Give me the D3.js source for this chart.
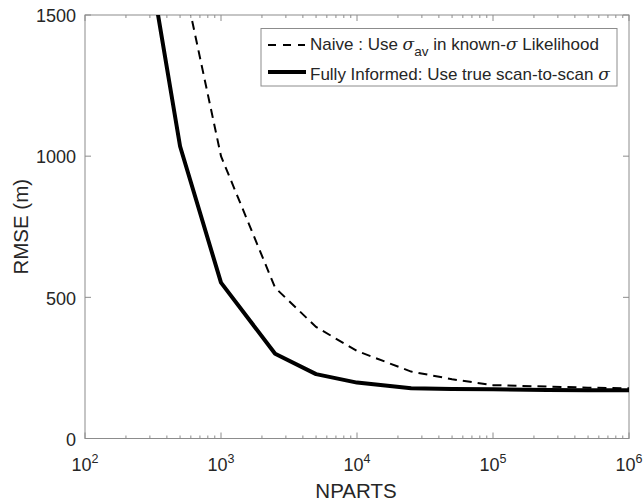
<!DOCTYPE html>
<html>
<head>
<meta charset="utf-8">
<script src="https://cdn.jsdelivr.net/npm/d3@7"></script>
<style>
    body { margin: 0; background: #fff; }
    text { font-family: "Liberation Sans", Arial, sans-serif; fill: #262626; }
</style>
</head>
<body>
<svg id="chart" width="643" height="503"></svg>
<script>
// values
const nparts = [250, 500, 1000, 2500, 5000, 10000, 25000, 50000, 100000, 250000, 500000, 1000000];
const naive = [2900, 1680, 1000, 534, 395, 310, 237, 210, 189, 184, 180, 178];
const informed = [1900, 1035, 552, 300, 228, 198, 178, 175, 174, 172, 171, 171];

const xDecades = [2, 3, 4, 5, 6];
const yTicks = [0, 500, 1000, 1500];

const svg = d3.select("#chart");
const box = { left: 85, right: 629, top: 15, bottom: 438.5 };
const axisColor = "#8c8c8c";

const x = d3.scaleLog().domain([1e2, 1e6]).range([box.left, box.right]);
const y = d3.scaleLinear().domain([0, 1500]).range([box.bottom, box.top]);

svg.append("defs").append("clipPath").attr("id", "plotclip")
    .append("rect")
    .attr("x", box.left).attr("y", box.top)
    .attr("width", box.right - box.left).attr("height", box.bottom - box.top);

// frame
svg.append("rect")
    .attr("x", box.left).attr("y", box.top)
    .attr("width", box.right - box.left).attr("height", box.bottom - box.top)
    .attr("fill", "none").attr("stroke", axisColor).attr("stroke-width", 1);

// x ticks (inside, bottom and top), minor ticks too
const minor = [];
for (let d = 2; d < 6; d++)
    for (let m = 2; m <= 9; m++) minor.push(m * Math.pow(10, d));

const ticks = svg.append("g").attr("stroke", axisColor).attr("stroke-width", 1);
xDecades.forEach(d => {
    const px = x(Math.pow(10, d));
    ticks.append("line").attr("x1", px).attr("x2", px).attr("y1", box.bottom).attr("y2", box.bottom - 6);
    ticks.append("line").attr("x1", px).attr("x2", px).attr("y1", box.top).attr("y2", box.top + 6);
});
minor.forEach(v => {
    const px = x(v);
    ticks.append("line").attr("x1", px).attr("x2", px).attr("y1", box.bottom).attr("y2", box.bottom - 3);
    ticks.append("line").attr("x1", px).attr("x2", px).attr("y1", box.top).attr("y2", box.top + 3);
});
yTicks.forEach(v => {
    const py = y(v);
    ticks.append("line").attr("x1", box.left).attr("x2", box.left + 6).attr("y1", py).attr("y2", py);
    ticks.append("line").attr("x1", box.right).attr("x2", box.right - 6).attr("y1", py).attr("y2", py);
});

// tick labels
xDecades.forEach(d => {
    const t = svg.append("text")
        .attr("x", x(Math.pow(10, d)))
        .attr("y", 470.5)
        .attr("text-anchor", "middle")
        .attr("font-size", 18);
    t.append("tspan").text("10");
    t.append("tspan").attr("dy", -8).attr("font-size", 12.5).text(d);
});

yTicks.forEach(v => {
    svg.append("text")
        .attr("x", box.left - 9)
        .attr("y", y(v))
        .attr("dy", "0.4em")
        .attr("text-anchor", "end")
        .attr("font-size", 18)
        .text(v);
});

// axis titles
svg.append("text")
    .attr("x", 356)
    .attr("y", 498)
    .attr("text-anchor", "middle")
    .attr("font-size", 20.5)
    .text("NPARTS");

svg.append("text")
    .attr("transform", `translate(27.5,${(box.top + box.bottom) / 2}) rotate(-90)`)
    .attr("text-anchor", "middle")
    .attr("font-size", 20.5)
    .text("RMSE (m)");

// lines
const line = vals => d3.line()
    .x((d, i) => x(nparts[i]))
    .y(d => y(d))(vals);

const plot = svg.append("g").attr("clip-path", "url(#plotclip)");

plot.append("path")
    .attr("d", line(naive))
    .attr("fill", "none")
    .attr("stroke", "#000")
    .attr("stroke-width", 2)
    .attr("stroke-dasharray", "9,6");

plot.append("path")
    .attr("d", line(informed))
    .attr("fill", "none")
    .attr("stroke", "#000")
    .attr("stroke-width", 4)
    .attr("stroke-linejoin", "round");

// legend
const lg = svg.append("g");
lg.append("rect")
    .attr("x", 261).attr("y", 28.5)
    .attr("width", 356).attr("height", 57.5)
    .attr("fill", "#fff").attr("stroke", axisColor).attr("stroke-width", 1);

lg.append("line")
    .attr("x1", 268).attr("x2", 305).attr("y1", 45).attr("y2", 45)
    .attr("stroke", "#000").attr("stroke-width", 2).attr("stroke-dasharray", "8,7");
lg.append("line")
    .attr("x1", 268).attr("x2", 306).attr("y1", 72).attr("y2", 72)
    .attr("stroke", "#000").attr("stroke-width", 4);

const t1 = lg.append("text").attr("x", 310).attr("y", 50).attr("font-size", 17);
t1.append("tspan").text("Naive : Use ");
t1.append("tspan").attr("font-family", "'DejaVu Serif', serif").attr("font-style", "italic").text("σ");
t1.append("tspan").attr("dy", 6).attr("font-size", 13.5).text("av");
t1.append("tspan").attr("dy", -6).text(" in known-");
t1.append("tspan").attr("font-family", "'DejaVu Serif', serif").attr("font-style", "italic").text("σ");
t1.append("tspan").text(" Likelihood");

const t2 = lg.append("text").attr("x", 310).attr("y", 79.5).attr("font-size", 17);
t2.append("tspan").text("Fully Informed: Use true scan-to-scan ");
t2.append("tspan").attr("font-family", "'DejaVu Serif', serif").attr("font-style", "italic").text("σ");
</script>
</body>
</html>
